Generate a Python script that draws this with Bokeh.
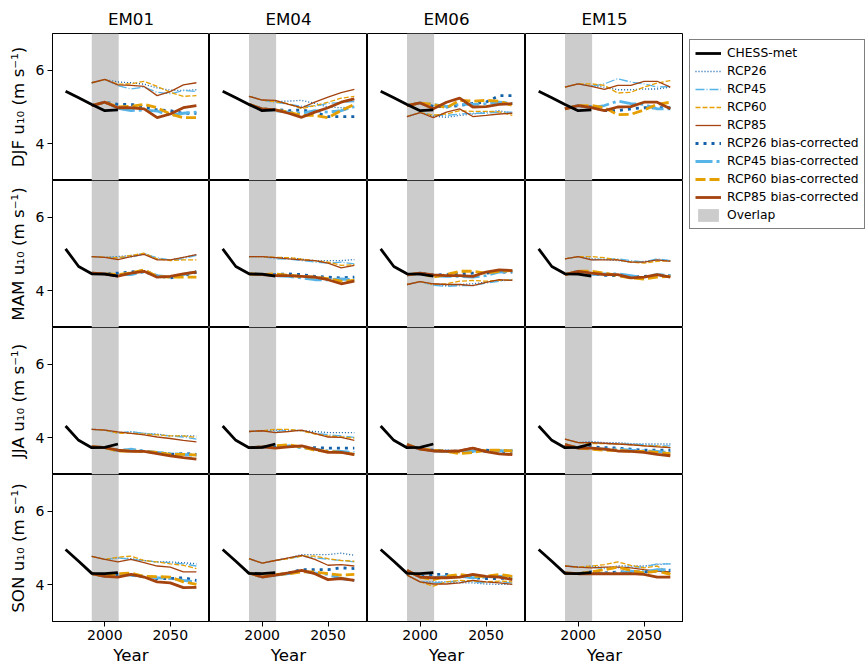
import numpy as np
from bokeh.plotting import figure
from bokeh.models import Range1d, FixedTicker, BoxAnnotation, Legend, LegendItem
from bokeh.layouts import row, column
from bokeh.embed import file_html
from bokeh.resources import INLINE

# ---------------- data ----------------
SEASONS = ["DJF", "MAM", "JJA", "SON"]
MODELS = ["EM01", "EM04", "EM06", "EM15"]
SCENARIOS = ["26", "45", "60", "85"]
YEARS_OBS = [1970, 1980, 1990, 2000, 2010]
YEARS_RCP = [1990, 2000, 2010, 2020, 2030, 2040, 2050, 2060, 2070]
OVERLAP = [1990, 2010.6]
X_TICKS = [2000, 2050]
Y_TICKS = [4, 6]

chess_djf = [5.43, 5.25, 5.07, 4.90, 4.92]
chess_mam = [5.14, 4.66, 4.46, 4.45, 4.40]
chess_jja = [4.32, 3.93, 3.73, 3.74, 3.83]
chess_son = [4.96, 4.64, 4.31, 4.30, 4.33]

# DJF
djf_em01_26 = [5.66, 5.75, 5.68, 5.66, 5.62, 5.52, 5.46, 5.45, 5.47]
djf_em01_45 = [5.66, 5.75, 5.58, 5.49, 5.54, 5.40, 5.36, 5.45, 5.42]
djf_em01_60 = [5.66, 5.75, 5.62, 5.63, 5.70, 5.56, 5.40, 5.29, 5.31]
djf_em01_85 = [5.66, 5.75, 5.60, 5.59, 5.56, 5.31, 5.42, 5.60, 5.66]
djf_em01_26bc = [5.04, 5.13, 5.07, 5.07, 5.01, 4.92, 4.90, 4.83, 4.83]
djf_em01_45bc = [5.04, 5.13, 4.96, 4.90, 4.92, 4.89, 4.77, 4.83, 4.86]
djf_em01_60bc = [5.04, 5.13, 5.00, 5.02, 5.07, 4.98, 4.81, 4.71, 4.71]
djf_em01_85bc = [5.04, 5.13, 4.98, 4.98, 4.95, 4.71, 4.81, 4.98, 5.04]

djf_em04_26 = [5.29, 5.19, 5.15, 5.16, 5.18, 5.10, 5.00, 4.98, 5.01]
djf_em04_45 = [5.29, 5.19, 5.12, 5.08, 5.02, 5.02, 5.10, 5.12, 5.15]
djf_em04_60 = [5.29, 5.19, 5.14, 5.09, 4.95, 5.04, 5.13, 5.24, 5.29]
djf_em04_85 = [5.29, 5.19, 5.18, 5.07, 4.98, 5.13, 5.27, 5.39, 5.48]
djf_em04_26bc = [5.07, 4.95, 4.93, 4.90, 4.92, 4.86, 4.74, 4.74, 4.74]
djf_em04_45bc = [5.07, 4.95, 4.90, 4.86, 4.83, 4.90, 4.86, 4.90, 5.01]
djf_em04_60bc = [5.07, 4.95, 4.92, 4.86, 4.77, 4.77, 4.71, 4.90, 5.07]
djf_em04_85bc = [5.07, 4.95, 4.92, 4.83, 4.72, 4.86, 4.98, 5.13, 5.22]

djf_em06_26 = [4.74, 4.85, 4.75, 4.72, 4.77, 4.81, 4.86, 4.90, 4.83]
djf_em06_45 = [4.74, 4.85, 4.78, 4.77, 4.81, 4.83, 4.83, 4.86, 4.86]
djf_em06_60 = [4.74, 4.85, 4.78, 4.81, 4.90, 4.88, 4.88, 4.87, 4.77]
djf_em06_85 = [4.74, 4.85, 4.71, 4.86, 4.95, 4.74, 4.77, 4.81, 4.83]
djf_em06_26bc = [5.04, 5.11, 5.02, 5.00, 5.04, 5.10, 5.13, 5.31, 5.31]
djf_em06_45bc = [5.04, 5.11, 5.07, 5.01, 5.07, 5.07, 5.09, 5.13, 5.10]
djf_em06_60bc = [5.04, 5.11, 5.07, 4.98, 5.18, 5.16, 5.18, 5.16, 5.04]
djf_em06_85bc = [5.04, 5.11, 4.95, 5.13, 5.24, 5.00, 5.01, 5.07, 5.09]

djf_em15_26 = [5.54, 5.63, 5.58, 5.54, 5.47, 5.47, 5.49, 5.49, 5.54]
djf_em15_45 = [5.54, 5.63, 5.56, 5.63, 5.77, 5.68, 5.63, 5.54, 5.56]
djf_em15_60 = [5.54, 5.63, 5.63, 5.59, 5.38, 5.40, 5.54, 5.65, 5.72]
djf_em15_85 = [5.54, 5.63, 5.56, 5.48, 5.59, 5.59, 5.70, 5.70, 5.54]
djf_em15_26bc = [4.95, 5.04, 5.00, 4.90, 4.90, 4.95, 4.98, 4.98, 4.98]
djf_em15_45bc = [4.95, 5.04, 4.98, 5.04, 5.16, 5.09, 5.07, 4.95, 4.95]
djf_em15_60bc = [4.95, 5.04, 5.04, 4.98, 4.79, 4.80, 4.92, 5.07, 5.13]
djf_em15_85bc = [4.95, 5.04, 4.98, 4.90, 5.00, 5.01, 5.13, 5.13, 4.95]

# MAM
mam_em01_26 = [4.93, 4.91, 4.93, 4.96, 5.02, 4.87, 4.84, 4.90, 4.99]
mam_em01_45 = [4.93, 4.91, 4.91, 4.91, 5.00, 4.90, 4.84, 4.87, 4.96]
mam_em01_60 = [4.93, 4.91, 4.90, 4.96, 5.02, 4.87, 4.82, 4.84, 4.84]
mam_em01_85 = [4.93, 4.91, 4.85, 4.93, 4.99, 4.84, 4.84, 4.91, 4.98]
mam_em01_26bc = [4.48, 4.46, 4.48, 4.51, 4.55, 4.41, 4.35, 4.41, 4.50]
mam_em01_45bc = [4.48, 4.46, 4.44, 4.44, 4.51, 4.41, 4.37, 4.44, 4.53]
mam_em01_60bc = [4.48, 4.46, 4.44, 4.48, 4.57, 4.39, 4.37, 4.37, 4.37]
mam_em01_85bc = [4.48, 4.46, 4.40, 4.48, 4.53, 4.37, 4.39, 4.46, 4.51]

mam_em04_26 = [4.93, 4.93, 4.90, 4.90, 4.86, 4.82, 4.82, 4.82, 4.85]
mam_em04_45 = [4.93, 4.93, 4.87, 4.86, 4.82, 4.78, 4.75, 4.78, 4.73]
mam_em04_60 = [4.93, 4.93, 4.91, 4.90, 4.86, 4.82, 4.78, 4.69, 4.71]
mam_em04_85 = [4.93, 4.93, 4.90, 4.87, 4.84, 4.82, 4.75, 4.62, 4.69]
mam_em04_26bc = [4.46, 4.44, 4.44, 4.46, 4.44, 4.39, 4.37, 4.35, 4.37]
mam_em04_45bc = [4.46, 4.44, 4.41, 4.39, 4.35, 4.30, 4.30, 4.32, 4.30]
mam_em04_60bc = [4.46, 4.44, 4.46, 4.42, 4.39, 4.37, 4.33, 4.26, 4.28]
mam_em04_85bc = [4.46, 4.44, 4.41, 4.41, 4.39, 4.37, 4.30, 4.19, 4.26]

mam_em06_26 = [4.17, 4.25, 4.16, 4.14, 4.17, 4.19, 4.23, 4.28, 4.28]
mam_em06_45 = [4.17, 4.25, 4.15, 4.12, 4.14, 4.14, 4.21, 4.26, 4.30]
mam_em06_60 = [4.17, 4.25, 4.17, 4.19, 4.26, 4.28, 4.26, 4.28, 4.30]
mam_em06_85 = [4.17, 4.25, 4.19, 4.17, 4.17, 4.14, 4.23, 4.30, 4.28]
mam_em06_26bc = [4.43, 4.48, 4.43, 4.44, 4.46, 4.48, 4.48, 4.51, 4.51]
mam_em06_45bc = [4.43, 4.48, 4.41, 4.39, 4.39, 4.37, 4.41, 4.51, 4.53]
mam_em06_60bc = [4.43, 4.48, 4.37, 4.44, 4.53, 4.53, 4.48, 4.53, 4.55]
mam_em06_85bc = [4.43, 4.48, 4.43, 4.41, 4.41, 4.39, 4.51, 4.57, 4.55]

mam_em15_26 = [4.87, 4.93, 4.87, 4.85, 4.82, 4.78, 4.80, 4.84, 4.82]
mam_em15_45 = [4.87, 4.93, 4.84, 4.87, 4.87, 4.82, 4.78, 4.87, 4.82]
mam_em15_60 = [4.87, 4.93, 4.93, 4.90, 4.84, 4.78, 4.75, 4.80, 4.82]
mam_em15_85 = [4.87, 4.93, 4.84, 4.84, 4.84, 4.78, 4.78, 4.84, 4.80]
mam_em15_26bc = [4.44, 4.53, 4.46, 4.42, 4.41, 4.37, 4.39, 4.43, 4.41]
mam_em15_45bc = [4.44, 4.53, 4.44, 4.46, 4.46, 4.41, 4.35, 4.44, 4.41]
mam_em15_60bc = [4.44, 4.53, 4.53, 4.48, 4.41, 4.35, 4.32, 4.37, 4.39]
mam_em15_85bc = [4.44, 4.53, 4.48, 4.44, 4.44, 4.35, 4.37, 4.44, 4.37]

# JJA
jja_em01_26 = [4.23, 4.21, 4.14, 4.16, 4.12, 4.10, 4.05, 4.05, 4.05]
jja_em01_45 = [4.23, 4.21, 4.12, 4.17, 4.12, 4.08, 4.05, 4.02, 3.96]
jja_em01_60 = [4.23, 4.21, 4.12, 4.12, 4.10, 4.08, 4.05, 4.05, 4.01]
jja_em01_85 = [4.23, 4.21, 4.16, 4.12, 4.08, 4.02, 3.98, 3.93, 3.89]
jja_em01_26bc = [3.76, 3.73, 3.66, 3.66, 3.63, 3.60, 3.55, 3.57, 3.55]
jja_em01_45bc = [3.76, 3.73, 3.64, 3.69, 3.64, 3.60, 3.57, 3.55, 3.51]
jja_em01_60bc = [3.76, 3.73, 3.64, 3.64, 3.63, 3.60, 3.55, 3.55, 3.53]
jja_em01_85bc = [3.76, 3.73, 3.66, 3.63, 3.63, 3.57, 3.51, 3.46, 3.42]

jja_em04_26 = [4.17, 4.19, 4.21, 4.21, 4.19, 4.17, 4.14, 4.14, 4.14]
jja_em04_45 = [4.17, 4.19, 4.17, 4.21, 4.19, 4.12, 4.08, 4.05, 4.01]
jja_em04_60 = [4.17, 4.19, 4.23, 4.23, 4.19, 4.10, 4.05, 4.02, 3.99]
jja_em04_85 = [4.17, 4.19, 4.14, 4.17, 4.21, 4.12, 4.02, 4.01, 3.93]
jja_em04_26bc = [3.73, 3.75, 3.75, 3.77, 3.75, 3.73, 3.72, 3.72, 3.72]
jja_em04_45bc = [3.73, 3.75, 3.73, 3.78, 3.73, 3.69, 3.64, 3.63, 3.60]
jja_em04_60bc = [3.73, 3.75, 3.78, 3.81, 3.75, 3.66, 3.63, 3.60, 3.55]
jja_em04_85bc = [3.73, 3.75, 3.72, 3.75, 3.78, 3.69, 3.60, 3.60, 3.54]

jja_em06_26 = [3.84, 3.70, 3.67, 3.66, 3.64, 3.64, 3.67, 3.64, 3.64]
jja_em06_45 = [3.84, 3.70, 3.66, 3.64, 3.62, 3.65, 3.64, 3.65, 3.67]
jja_em06_60 = [3.84, 3.70, 3.67, 3.64, 3.59, 3.62, 3.67, 3.67, 3.65]
jja_em06_85 = [3.84, 3.70, 3.66, 3.65, 3.66, 3.73, 3.64, 3.57, 3.56]
jja_em06_26bc = [3.81, 3.69, 3.66, 3.64, 3.63, 3.63, 3.66, 3.63, 3.63]
jja_em06_45bc = [3.81, 3.69, 3.64, 3.63, 3.60, 3.64, 3.63, 3.64, 3.66]
jja_em06_60bc = [3.81, 3.69, 3.66, 3.63, 3.57, 3.60, 3.66, 3.66, 3.64]
jja_em06_85bc = [3.81, 3.69, 3.64, 3.63, 3.64, 3.72, 3.62, 3.56, 3.54]

jja_em15_26 = [3.96, 3.87, 3.90, 3.87, 3.87, 3.84, 3.83, 3.83, 3.83]
jja_em15_45 = [3.96, 3.87, 3.87, 3.84, 3.83, 3.83, 3.81, 3.78, 3.78]
jja_em15_60 = [3.96, 3.87, 3.84, 3.84, 3.83, 3.81, 3.78, 3.78, 3.73]
jja_em15_85 = [3.96, 3.87, 3.87, 3.85, 3.83, 3.81, 3.78, 3.75, 3.73]
jja_em15_26bc = [3.81, 3.72, 3.75, 3.73, 3.72, 3.69, 3.66, 3.66, 3.66]
jja_em15_45bc = [3.81, 3.72, 3.72, 3.69, 3.69, 3.66, 3.64, 3.63, 3.60]
jja_em15_60bc = [3.81, 3.72, 3.69, 3.66, 3.66, 3.63, 3.63, 3.60, 3.57]
jja_em15_85bc = [3.81, 3.72, 3.72, 3.69, 3.64, 3.63, 3.60, 3.55, 3.51]

# SON
son_em01_26 = [4.77, 4.69, 4.73, 4.71, 4.66, 4.62, 4.62, 4.60, 4.57]
son_em01_45 = [4.77, 4.69, 4.73, 4.69, 4.66, 4.62, 4.60, 4.57, 4.51]
son_em01_60 = [4.77, 4.69, 4.75, 4.78, 4.66, 4.62, 4.57, 4.53, 4.44]
son_em01_85 = [4.77, 4.69, 4.62, 4.69, 4.60, 4.51, 4.48, 4.35, 4.35]
son_em01_26bc = [4.30, 4.23, 4.28, 4.26, 4.23, 4.17, 4.17, 4.19, 4.12]
son_em01_45bc = [4.30, 4.23, 4.28, 4.26, 4.22, 4.19, 4.17, 4.12, 4.08]
son_em01_60bc = [4.30, 4.23, 4.30, 4.32, 4.23, 4.22, 4.21, 4.08, 4.01]
son_em01_85bc = [4.30, 4.23, 4.21, 4.28, 4.21, 4.08, 4.05, 3.92, 3.93]

son_em04_26 = [4.71, 4.59, 4.66, 4.73, 4.82, 4.82, 4.82, 4.86, 4.80]
son_em04_45 = [4.71, 4.59, 4.66, 4.71, 4.78, 4.73, 4.69, 4.66, 4.62]
son_em04_60 = [4.71, 4.59, 4.66, 4.71, 4.78, 4.78, 4.71, 4.66, 4.64]
son_em04_85 = [4.71, 4.59, 4.66, 4.73, 4.80, 4.69, 4.53, 4.55, 4.51]
son_em04_26bc = [4.32, 4.21, 4.26, 4.32, 4.41, 4.41, 4.41, 4.46, 4.44]
son_em04_45bc = [4.32, 4.21, 4.26, 4.30, 4.37, 4.32, 4.28, 4.17, 4.12]
son_em04_60bc = [4.32, 4.21, 4.28, 4.30, 4.35, 4.35, 4.30, 4.26, 4.28]
son_em04_85bc = [4.32, 4.21, 4.26, 4.32, 4.39, 4.30, 4.14, 4.17, 4.12]

son_em06_26 = [4.26, 4.08, 4.08, 4.08, 4.05, 4.05, 4.02, 4.01, 4.01]
son_em06_45 = [4.26, 4.08, 4.05, 4.08, 4.10, 4.08, 4.05, 4.08, 4.05]
son_em06_60 = [4.26, 4.08, 3.96, 4.08, 4.12, 4.10, 4.08, 4.10, 4.08]
son_em06_85 = [4.26, 4.08, 4.02, 4.02, 4.05, 4.12, 4.08, 4.05, 4.01]
son_em06_26bc = [4.39, 4.21, 4.28, 4.28, 4.23, 4.19, 4.17, 4.17, 4.19]
son_em06_45bc = [4.39, 4.21, 4.19, 4.23, 4.23, 4.19, 4.21, 4.23, 4.21]
son_em06_60bc = [4.39, 4.21, 4.14, 4.23, 4.28, 4.23, 4.23, 4.28, 4.23]
son_em06_85bc = [4.39, 4.21, 4.19, 4.19, 4.21, 4.28, 4.23, 4.21, 4.14]

son_em15_26 = [4.51, 4.48, 4.51, 4.46, 4.51, 4.51, 4.51, 4.55, 4.57]
son_em15_45 = [4.51, 4.48, 4.48, 4.44, 4.46, 4.48, 4.48, 4.57, 4.57]
son_em15_60 = [4.51, 4.48, 4.51, 4.55, 4.62, 4.53, 4.46, 4.51, 4.30]
son_em15_85 = [4.51, 4.48, 4.46, 4.48, 4.48, 4.46, 4.41, 4.37, 4.35]
son_em15_26bc = [4.32, 4.30, 4.35, 4.32, 4.35, 4.35, 4.35, 4.37, 4.39]
son_em15_45bc = [4.32, 4.30, 4.32, 4.30, 4.32, 4.37, 4.35, 4.41, 4.41]
son_em15_60bc = [4.32, 4.30, 4.35, 4.41, 4.48, 4.39, 4.32, 4.37, 4.28]
son_em15_85bc = [4.32, 4.30, 4.30, 4.30, 4.30, 4.30, 4.28, 4.21, 4.21]

CHESS = {"DJF": chess_djf, "MAM": chess_mam, "JJA": chess_jja, "SON": chess_son}

# ---------------- styles ----------------
FONT = "DejaVu Sans"
C26, C45, C60, C85 = "#1361A8", "#56B4E9", "#E69F00", "#A5430F"
SHADE = "#cccccc"
THIN, THICK = 1.3, 2.8
STYLE = {
    "26": dict(line_color=C26, line_width=THIN, line_dash="1 2"),
    "45": dict(line_color=C45, line_width=THIN, line_dash="9 2 1 2"),
    "60": dict(line_color=C60, line_width=THIN, line_dash="5 2"),
    "85": dict(line_color=C85, line_width=THIN, line_dash="solid"),
    "26bc": dict(line_color=C26, line_width=THICK, line_dash="3 5"),
    "45bc": dict(line_color=C45, line_width=THICK, line_dash="17 4 3 4"),
    "60bc": dict(line_color=C60, line_width=THICK, line_dash="10 4"),
    "85bc": dict(line_color=C85, line_width=THICK, line_dash="solid"),
}
CHESS_STYLE = dict(line_color="black", line_width=2.8)
LABELS = {"26": "RCP26", "45": "RCP45", "60": "RCP60", "85": "RCP85"}

FRAME_W = [157, 158, 158, 158]
FH = 147
LEFT_B, TOP_B, BOT_B = 52, 33, 46

x_rng = Range1d(1960, 2080)
y_rng = Range1d(3, 7)

rows = []
for i, season in enumerate(SEASONS):
    figs = []
    for j, model in enumerate(MODELS):
        lb = LEFT_B if j == 0 else 0
        tb = TOP_B if i == 0 else 0
        bb = BOT_B if i == 3 else 0
        p = figure(
            width=FRAME_W[j] + lb, height=FH + tb + bb,
            x_range=x_rng, y_range=y_rng,
            output_backend="svg", toolbar_location=None,
            min_border_left=lb, min_border_right=0,
            min_border_top=tb, min_border_bottom=bb,
        )
        p.grid.visible = False
        p.outline_line_color = "black"
        p.outline_line_width = 1
        p.background_fill_color = "white"
        p.border_fill_color = "white"

        p.add_layout(BoxAnnotation(left=OVERLAP[0], right=OVERLAP[1],
                                   fill_color=SHADE, fill_alpha=1.0,
                                   line_color=None, level="underlay"))

        key = f"{season.lower()}_{model.lower()}"
        for s in SCENARIOS:
            p.line(YEARS_RCP, globals()[f"{key}_{s}"], **STYLE[s])
        for s in SCENARIOS:
            p.line(YEARS_RCP, globals()[f"{key}_{s}bc"], **STYLE[s + "bc"])
        p.line(YEARS_OBS, CHESS[season], **CHESS_STYLE)

        for ax in p.xaxis:
            ax.ticker = FixedTicker(ticks=X_TICKS)
        for ax in p.yaxis:
            ax.ticker = FixedTicker(ticks=Y_TICKS)
        for ax in list(p.xaxis) + list(p.yaxis):
            ax.minor_tick_line_color = None
            ax.major_tick_out = 5
            ax.major_tick_in = 0
            ax.axis_line_color = "black"
            ax.major_tick_line_color = "black"
            ax.major_label_text_font = FONT
            ax.major_label_text_font_size = "14px"
            ax.major_label_text_color = "black"
            ax.axis_label_text_font = FONT
            ax.axis_label_text_font_size = "16.7px"
            ax.axis_label_text_font_style = "normal"
            ax.axis_label_text_color = "black"
        if i == 3:
            p.xaxis.axis_label = "Year"
            p.xaxis.major_label_standoff = 3
            p.xaxis.axis_label_standoff = 2
        else:
            p.xaxis.visible = False
        if j == 0:
            p.yaxis.axis_label = f"{season} u\u2081\u2080 (m s\u207b\u00b9)"
            p.yaxis.major_label_standoff = 3
            p.yaxis.axis_label_standoff = 5
        else:
            p.yaxis.visible = False
        if i == 0:
            p.title.text = model
            p.title.align = "center"
            p.title.text_font = FONT
            p.title.text_font_size = "16.7px"
            p.title.text_font_style = "normal"
            p.title.text_color = "black"
            p.title.standoff = 10
        figs.append(p)
    rows.append(row(*figs, spacing=0))

grid = column(*rows, spacing=0)

# ---------------- legend figure ----------------
lf = figure(width=182, height=667, x_range=Range1d(0, 1), y_range=Range1d(0, 1),
            output_backend="svg", toolbar_location=None,
            min_border_left=6, min_border_right=0, min_border_top=39, min_border_bottom=0)
lf.axis.visible = False
lf.grid.visible = False
lf.outline_line_color = None

NA = np.array([np.nan])
items = []
r = lf.line(NA, NA, **CHESS_STYLE)
items.append(LegendItem(label="CHESS-met", renderers=[r]))
for s in SCENARIOS:
    r = lf.line(NA, NA, **STYLE[s])
    items.append(LegendItem(label=LABELS[s], renderers=[r]))
for s in SCENARIOS:
    r = lf.line(NA, NA, **STYLE[s + "bc"])
    items.append(LegendItem(label=LABELS[s] + " bias-corrected", renderers=[r]))
r = lf.quad(left=NA, right=NA, top=NA, bottom=NA, fill_color=SHADE, line_color=None)
items.append(LegendItem(label="Overlap", renderers=[r]))

leg = Legend(items=items, location="top_left", margin=0,
             padding=5, spacing=2, label_standoff=6,
             glyph_width=26, glyph_height=16, label_height=16,
             label_text_font=FONT, label_text_font_size="12.3px",
             label_text_color="black",
             border_line_color="black", border_line_width=1,
             background_fill_color="white", background_fill_alpha=1.0)
lf.add_layout(leg, "center")

layout = row(grid, lf, spacing=0)

open("out.html", "w").write(file_html(layout, INLINE))
